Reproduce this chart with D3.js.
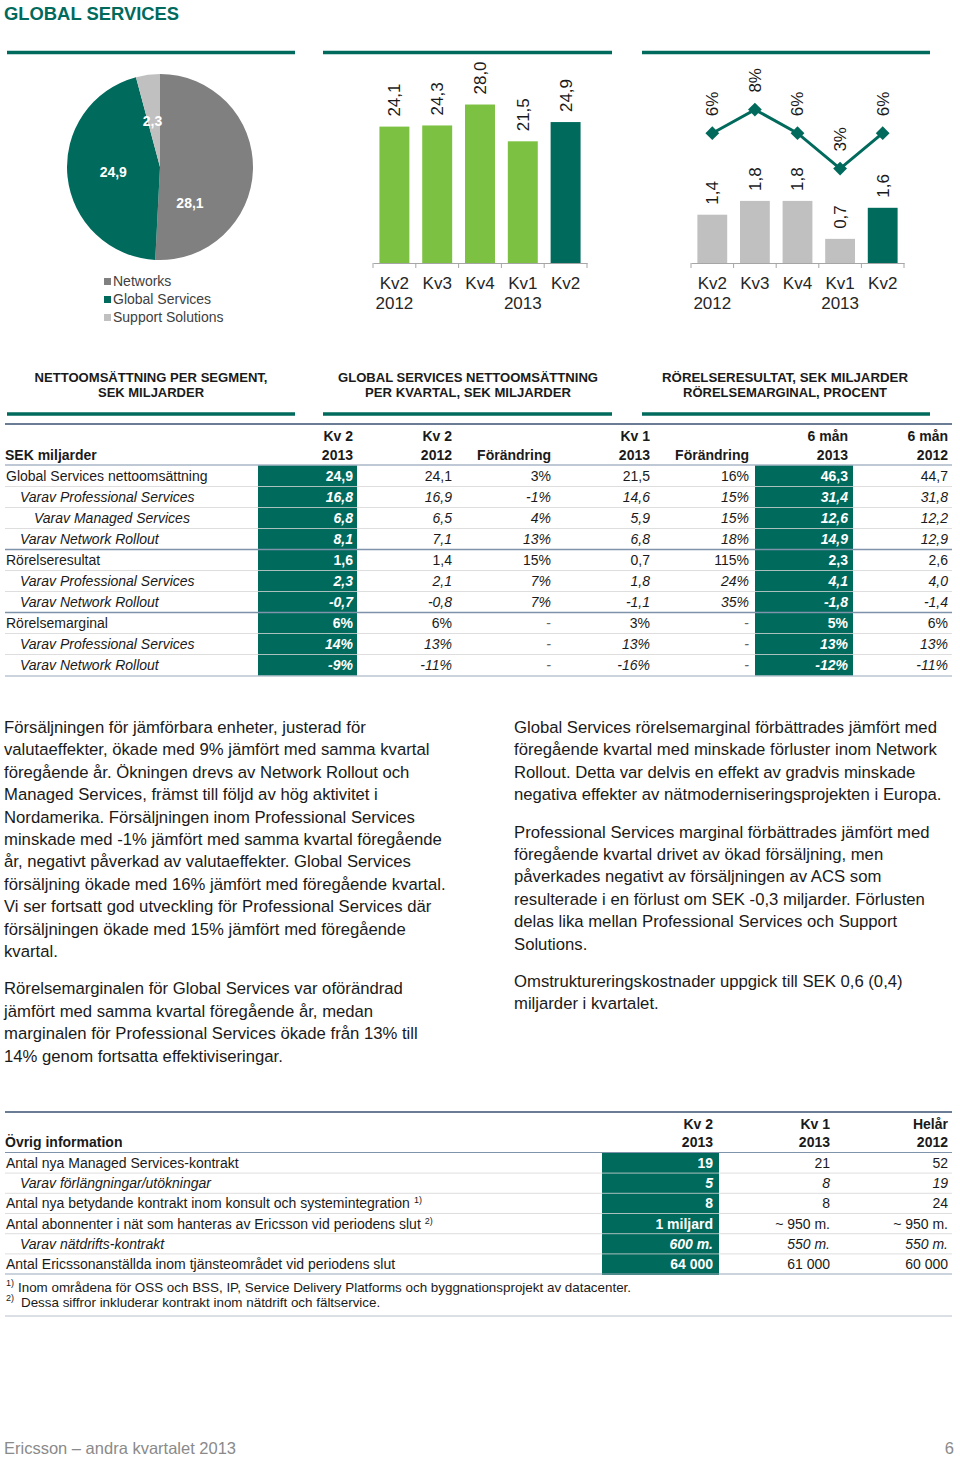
<!DOCTYPE html>
<html><head><meta charset="utf-8">
<script src="https://cdn.jsdelivr.net/npm/d3@7"></script>
<style>
html,body{margin:0;padding:0;background:#fff;}
svg{display:block;font-family:"Liberation Sans",Arial,Helvetica,sans-serif;}
</style></head><body>
<svg id="c" width="960" height="1457"></svg>
<script>
// ---------- DATA ----------
const segments = ["Networks", "Global Services", "Support Solutions"];
const segmentValues = [28.1, 24.9, 2.3];
const segmentLabels = ["28,1", "24,9", "2,3"];

const quarters = ["Kv2 2012", "Kv3 2012", "Kv4 2012", "Kv1 2013", "Kv2 2013"];
const quarterTickLines = [["Kv2", "2012"], ["Kv3"], ["Kv4"], ["Kv1", "2013"], ["Kv2"]];
const netSales = [24.1, 24.3, 28.0, 21.5, 24.9];
const netSalesLabels = ["24,1", "24,3", "28,0", "21,5", "24,9"];
const opIncome = [1.4, 1.8, 1.8, 0.7, 1.6];
const opIncomeLabels = ["1,4", "1,8", "1,8", "0,7", "1,6"];
const opMargin = [6, 8, 6, 3, 6];
const opMarginLabels = ["6%", "8%", "6%", "3%", "6%"];

const panelTitles = [
  ["NETTOOMSÄTTNING PER SEGMENT,", "SEK MILJARDER"],
  ["GLOBAL SERVICES NETTOOMSÄTTNING", "PER KVARTAL, SEK MILJARDER"],
  ["RÖRELSERESULTAT, SEK MILJARDER", "RÖRELSEMARGINAL, PROCENT"]
];

const t1Header = [["Kv 2", "2013"], ["Kv 2", "2012"], ["", "Förändring"], ["Kv 1", "2013"], ["", "Förändring"], ["6 mån", "2013"], ["6 mån", "2012"]];
const t1Labels = ["Global Services nettoomsättning", "Varav Professional Services", "Varav Managed Services", "Varav Network Rollout",
  "Rörelseresultat", "Varav Professional Services", "Varav Network Rollout",
  "Rörelsemarginal", "Varav Professional Services", "Varav Network Rollout"];
const t1Levels = [0, 1, 2, 1, 0, 1, 1, 0, 1, 1];
const t1Kv2_2013 = ["24,9", "16,8", "6,8", "8,1", "1,6", "2,3", "-0,7", "6%", "14%", "-9%"];
const t1Kv2_2012 = ["24,1", "16,9", "6,5", "7,1", "1,4", "2,1", "-0,8", "6%", "13%", "-11%"];
const t1Chg1 = ["3%", "-1%", "4%", "13%", "15%", "7%", "7%", "-", "-", "-"];
const t1Kv1_2013 = ["21,5", "14,6", "5,9", "6,8", "0,7", "1,8", "-1,1", "3%", "13%", "-16%"];
const t1Chg2 = ["16%", "15%", "15%", "18%", "115%", "24%", "35%", "-", "-", "-"];
const t1H1_2013 = ["46,3", "31,4", "12,6", "14,9", "2,3", "4,1", "-1,8", "5%", "13%", "-12%"];
const t1H1_2012 = ["44,7", "31,8", "12,2", "12,9", "2,6", "4,0", "-1,4", "6%", "13%", "-11%"];

const t2Header = [["Kv 2", "2013"], ["Kv 1", "2013"], ["Helår", "2012"]];
const t2Labels = ["Antal nya Managed Services-kontrakt", "Varav förlängningar/utökningar",
  "Antal nya betydande kontrakt inom konsult och systemintegration", "Antal abonnenter i nät som hanteras av Ericsson vid periodens slut",
  "Varav nätdrifts-kontrakt", "Antal Ericssonanställda inom tjänsteområdet vid periodens slut"];
const t2Notes = ["", "", "1)", "2)", "", ""];
const t2Levels = [0, 1, 0, 0, 1, 0];
const t2Kv2_2013 = ["19", "5", "8", "1 miljard", "600 m.", "64 000"];
const t2Kv1_2013 = ["21", "8", "8", "~ 950 m.", "550 m.", "61 000"];
const t2Year2012 = ["52", "19", "24", "~ 950 m.", "550 m.", "60 000"];
const footnotes = [["1)", "Inom områdena för OSS och BSS, IP, Service Delivery Platforms och byggnationsprojekt av datacenter."],
  ["2)", "Dessa siffror inkluderar kontrakt inom nätdrift och fältservice."]];

const leftText = [
  ["Försäljningen för jämförbara enheter, justerad för",
   "valutaeffekter, ökade med 9% jämfört med samma kvartal",
   "föregående år. Ökningen drevs av Network Rollout och",
   "Managed Services, främst till följd av hög aktivitet i",
   "Nordamerika. Försäljningen inom Professional Services",
   "minskade med -1% jämfört med samma kvartal föregående",
   "år, negativt påverkad av valutaeffekter. Global Services",
   "försäljning ökade med 16% jämfört med föregående kvartal.",
   "Vi ser fortsatt god utveckling för Professional Services där",
   "försäljningen ökade med 15% jämfört med föregående",
   "kvartal."],
  ["Rörelsemarginalen för Global Services var oförändrad",
   "jämfört med samma kvartal föregående år, medan",
   "marginalen för Professional Services ökade från 13% till",
   "14% genom fortsatta effektiviseringar."]
];
const rightText = [
  ["Global Services rörelsemarginal förbättrades jämfört med",
   "föregående kvartal med minskade förluster inom Network",
   "Rollout. Detta var delvis en effekt av gradvis minskade",
   "negativa effekter av nätmoderniseringsprojekten i Europa."],
  ["Professional Services marginal förbättrades jämfört med",
   "föregående kvartal drivet av ökad försäljning, men",
   "påverkades negativt av försäljningen av ACS som",
   "resulterade i en förlust om SEK -0,3 miljarder. Förlusten",
   "delas lika mellan Professional Services och Support",
   "Solutions."],
  ["Omstruktureringskostnader uppgick till SEK 0,6 (0,4)",
   "miljarder i kvartalet."]
];

// ---------- STYLE ----------
const TEAL = "#006a5d", GREEN = "#7dc142", GRAY = "#808080", LGRAY = "#c0c0c0", TXT = "#1a1a1a";
const svg = d3.select("#c");
svg.append("rect").attr("width", 960).attr("height", 1457).attr("fill", "#fff");

// Title
svg.append("text").attr("x", 4).attr("y", 20).attr("fill", TEAL).attr("font-weight", "bold")
  .attr("font-size", 18.4).text("GLOBAL SERVICES");

// Panel rules
const panels = [[7, 295], [323, 612], [642, 930]];
panels.forEach(p => {
  svg.append("line").attr("x1", p[0]).attr("x2", p[1]).attr("y1", 52.5).attr("y2", 52.5).attr("stroke", TEAL).attr("stroke-width", 3.5);
  svg.append("line").attr("x1", p[0]).attr("x2", p[1]).attr("y1", 414).attr("y2", 414).attr("stroke", TEAL).attr("stroke-width", 3.5);
});
// Panel titles
const titleCx = [151, 468, 785];
const titleW = [[233, 106], [260, 206], [246, 204]];
panelTitles.forEach((lines, i) => {
  lines.forEach((l, j) => {
    svg.append("text").attr("x", titleCx[i]).attr("y", 381.5 + j * 15).attr("text-anchor", "middle")
      .attr("font-weight", "bold").attr("font-size", 12.5).attr("fill", TXT)
      .attr("textLength", titleW[i][j]).attr("lengthAdjust", "spacingAndGlyphs").text(l);
  });
});

// ---------- PIE ----------
const segColors = [GRAY, TEAL, LGRAY];
const pieG = svg.append("g").attr("transform", "translate(160,167)");
const pieData = d3.pie().sort(null).value(d => d)(segmentValues);
const arc = d3.arc().innerRadius(0).outerRadius(93);
pieG.selectAll("path").data(pieData).join("path").attr("d", arc).attr("fill", (d, i) => segColors[i]);
const labelArc = d3.arc().innerRadius(50).outerRadius(50);
const labelNudge = [[-20, 35], [3, 0], [-1, 4]];
pieG.selectAll("text").data(pieData).join("text")
  .attr("x", (d, i) => labelArc.centroid(d)[0] + labelNudge[i][0])
  .attr("y", (d, i) => labelArc.centroid(d)[1] + labelNudge[i][1])
  .attr("dy", "0.35em").attr("text-anchor", "middle").attr("fill", "#fff")
  .attr("font-weight", "bold").attr("font-size", 14).text((d, i) => segmentLabels[i]);
// legend
const lg = svg.append("g");
segments.forEach((s, i) => {
  lg.append("rect").attr("x", 104).attr("y", 278 + i * 18).attr("width", 7).attr("height", 7).attr("fill", segColors[i]);
  lg.append("text").attr("x", 113).attr("y", 286 + i * 18).attr("font-size", 14).attr("fill", "#404040").text(s);
});

// ---------- BAR CHART helpers ----------
function xAxis(x, y0) {
  const g = svg.append("g").attr("transform", `translate(0,${y0})`)
    .call(d3.axisBottom(x).tickSize(0).tickSizeOuter(0).tickFormat(""));
  g.select(".domain").attr("stroke", "#a6a6a6");
  const r = x.range();
  d3.range(quarters.length + 1).forEach(i => {
    g.append("line").attr("x1", r[0] + i * x.step()).attr("x2", r[0] + i * x.step())
      .attr("y1", 0).attr("y2", 5).attr("stroke", "#a6a6a6");
  });
  quarterTickLines.forEach((lines, i) => {
    lines.forEach((l, j) => {
      svg.append("text").attr("x", x(quarters[i]) + x.bandwidth() / 2).attr("y", y0 + 26 + j * 20)
        .attr("text-anchor", "middle").attr("font-size", 17).attr("fill", "#262626").text(l);
    });
  });
}

// Chart 2
const x2 = d3.scaleBand().domain(quarters).range([373, 587]).paddingInner(0.3).paddingOuter(0.15);
const y2 = d3.scaleLinear().domain([0, 30]).range([263, 93.2]);
svg.append("g").selectAll("rect").data(netSales).join("rect")
  .attr("x", (d, i) => x2(quarters[i])).attr("width", x2.bandwidth())
  .attr("y", d => y2(d)).attr("height", d => y2(0) - y2(d))
  .attr("fill", (d, i) => i === netSales.length - 1 ? TEAL : GREEN);
svg.append("g").selectAll("text").data(netSales).join("text")
  .attr("transform", (d, i) => `translate(${x2(quarters[i]) + x2.bandwidth() / 2},${y2(d) - 10}) rotate(-90)`)
  .attr("dy", "0.35em").attr("font-size", 17).attr("fill", TXT).text((d, i) => netSalesLabels[i]);
xAxis(x2, 263);

// Chart 3
const x3 = d3.scaleBand().domain(quarters).range([691, 904]).paddingInner(0.3).paddingOuter(0.15);
const y3 = d3.scaleLinear().domain([0, 2]).range([263, 194]);
const ym = d3.scaleLinear().domain([0, 10]).range([204, 86]);
svg.append("g").selectAll("rect").data(opIncome).join("rect")
  .attr("x", (d, i) => x3(quarters[i])).attr("width", x3.bandwidth())
  .attr("y", d => y3(d)).attr("height", d => y3(0) - y3(d))
  .attr("fill", (d, i) => i === opIncome.length - 1 ? TEAL : LGRAY);
svg.append("g").selectAll("text").data(opIncome).join("text")
  .attr("transform", (d, i) => `translate(${x3(quarters[i]) + x3.bandwidth() / 2},${y3(d) - 10}) rotate(-90)`)
  .attr("dy", "0.35em").attr("font-size", 17).attr("fill", TXT).text((d, i) => opIncomeLabels[i]);
xAxis(x3, 263);
const cx3 = (d, i) => x3(quarters[i]) + x3.bandwidth() / 2;
svg.append("path").datum(opMargin)
  .attr("d", d3.line().x(cx3).y(d => ym(d)))
  .attr("fill", "none").attr("stroke", TEAL).attr("stroke-width", 3);
svg.append("g").selectAll("path").data(opMargin).join("path")
  .attr("d", d3.symbol(d3.symbolSquare, 95)())
  .attr("transform", (d, i) => `translate(${cx3(d, i)},${ym(d)}) rotate(45)`).attr("fill", TEAL);
svg.append("g").selectAll("text").data(opMargin).join("text")
  .attr("transform", (d, i) => `translate(${cx3(d, i)},${ym(d) - 17}) rotate(-90)`)
  .attr("dy", "0.35em").attr("font-size", 17).attr("fill", TXT).text((d, i) => opMarginLabels[i]);

// ---------- TABLE 1 ----------
const t1Cols = [t1Kv2_2013, t1Kv2_2012, t1Chg1, t1Kv1_2013, t1Chg2, t1H1_2013, t1H1_2012];
const t1Right = [353, 452, 551, 650, 749, 848, 948];
const t1Teal = [[258, 357, 0], [755, 853, 5]];
const t1Y0 = 476, t1RH = 21;
const t1 = svg.append("g").attr("font-size", 14).attr("fill", TXT);
t1Teal.forEach(t => t1.append("rect").attr("x", t[0]).attr("width", t[1] - t[0])
  .attr("y", t1Y0 - 10.5).attr("height", t1RH * t1Labels.length).attr("fill", TEAL));
// separators
t1Labels.forEach((l, i) => {
  if (i === t1Labels.length - 1) return;
  const y = t1Y0 + i * t1RH + 10.5;
  const group = (i === 3 || i === 6);
  t1.append("line").attr("x1", 5).attr("x2", 952).attr("y1", y).attr("y2", y)
    .attr("stroke", group ? "#7f93ab" : "#d6d6d6").attr("stroke-opacity", group ? 1 : 0.8)
    .attr("stroke-width", group ? 1.5 : 1);
});
t1.append("line").attr("x1", 5).attr("x2", 952).attr("y1", 424).attr("y2", 424).attr("stroke", "#3a5270").attr("stroke-width", 1.6);
t1.append("line").attr("x1", 5).attr("x2", 952).attr("y1", 465).attr("y2", 465).attr("stroke", "#7f93ab").attr("stroke-width", 1);
t1.append("line").attr("x1", 5).attr("x2", 952).attr("y1", 676).attr("y2", 676).attr("stroke", "#98a8ba").attr("stroke-width", 1.2);
t1.append("text").attr("x", 5).attr("y", 460).attr("font-weight", "bold").text("SEK miljarder");
t1Header.forEach((h, c) => h.forEach((s, j) => {
  if (s) t1.append("text").attr("x", t1Right[c]).attr("y", 441 + j * 19).attr("text-anchor", "end").attr("font-weight", "bold").text(s);
}));
const indent = [6, 20, 34];
t1Labels.forEach((l, i) => {
  t1.append("text").attr("x", indent[t1Levels[i]]).attr("y", t1Y0 + i * t1RH + 5)
    .attr("font-style", t1Levels[i] > 0 ? "italic" : "normal").text(l);
});
t1Cols.forEach((col, c) => {
  const hi = t1Teal.some(t => t[2] === c);
  t1.append("g").selectAll("text").data(col).join("text")
    .attr("x", t1Right[c]).attr("y", (d, i) => t1Y0 + i * t1RH + 5).attr("text-anchor", "end")
    .attr("font-style", (d, i) => t1Levels[i] > 0 ? "italic" : "normal")
    .attr("font-weight", hi ? "bold" : "normal")
    .attr("fill", d => hi ? "#fff" : (d === "-" ? "#666" : TXT)).text(d => d);
});

// ---------- BODY TEXT ----------
function paragraphs(paras, x, y0) {
  let y = y0;
  paras.forEach(p => {
    p.forEach(line => {
      svg.append("text").attr("x", x).attr("y", y).attr("font-size", 16.7).attr("fill", TXT).text(line);
      y += 22.4;
    });
    y += 15;
  });
}
paragraphs(leftText, 4, 733);
paragraphs(rightText, 514, 733);

// ---------- TABLE 2 ----------
const t2Cols = [t2Kv2_2013, t2Kv1_2013, t2Year2012];
const t2Right = [713, 830, 948];
const t2Y0 = 1163, t2RH = 20.2;
const t2 = svg.append("g").attr("font-size", 14).attr("fill", TXT);
t2.append("rect").attr("x", 602).attr("width", 117).attr("y", t2Y0 - 10).attr("height", t2RH * t2Labels.length + 0.8).attr("fill", TEAL);
t2Labels.forEach((l, i) => {
  if (i === t2Labels.length - 1) return;
  const y = t2Y0 + i * t2RH + 10.1;
  t2.append("line").attr("x1", 5).attr("x2", 952).attr("y1", y).attr("y2", y).attr("stroke", "#d6d6d6").attr("stroke-opacity", 0.8);
});
t2.append("line").attr("x1", 5).attr("x2", 952).attr("y1", 1112).attr("y2", 1112).attr("stroke", "#3a5270").attr("stroke-width", 1.6);
t2.append("line").attr("x1", 5).attr("x2", 952).attr("y1", 1152.5).attr("y2", 1152.5).attr("stroke", "#7f93ab").attr("stroke-width", 1.2);
t2.append("line").attr("x1", 5).attr("x2", 952).attr("y1", 1274).attr("y2", 1274).attr("stroke", "#98a8ba").attr("stroke-width", 1.2);
t2.append("line").attr("x1", 5).attr("x2", 952).attr("y1", 1316).attr("y2", 1316).attr("stroke", "#b4c0cc").attr("stroke-width", 1);
t2.append("text").attr("x", 5).attr("y", 1147).attr("font-weight", "bold").text("Övrig information");
t2Header.forEach((h, c) => h.forEach((s, j) => {
  t2.append("text").attr("x", t2Right[c]).attr("y", 1129 + j * 18).attr("text-anchor", "end").attr("font-weight", "bold").text(s);
}));
t2Labels.forEach((l, i) => {
  const t = t2.append("text").attr("x", indent[t2Levels[i]]).attr("y", t2Y0 + i * t2RH + 5)
    .attr("font-style", t2Levels[i] > 0 ? "italic" : "normal").text(l);
  if (t2Notes[i]) t.append("tspan").attr("dx", 4).attr("dy", -5).attr("font-size", 9).text(t2Notes[i]);
});
t2Cols.forEach((col, c) => {
  t2.append("g").selectAll("text").data(col).join("text")
    .attr("x", t2Right[c]).attr("y", (d, i) => t2Y0 + i * t2RH + 5).attr("text-anchor", "end")
    .attr("font-style", (d, i) => t2Levels[i] > 0 ? "italic" : "normal")
    .attr("font-weight", c === 0 ? "bold" : "normal")
    .attr("fill", c === 0 ? "#fff" : TXT).text(d => d);
});
footnotes.forEach((f, i) => {
  t2.append("text").attr("x", 6).attr("y", 1286 + i * 15).attr("font-size", 9).text(f[0]);
  t2.append("text").attr("x", i === 0 ? 18 : 21).attr("y", 1292 + i * 15).attr("font-size", 13.4).text(f[1]);
});

// ---------- FOOTER ----------
svg.append("text").attr("x", 4).attr("y", 1454).attr("font-size", 16.5).attr("fill", "#8a8a8a").text("Ericsson – andra kvartalet 2013");
svg.append("text").attr("x", 954).attr("y", 1454).attr("font-size", 16.5).attr("fill", "#8a8a8a").attr("text-anchor", "end").text("6");
</script>
</body></html>
